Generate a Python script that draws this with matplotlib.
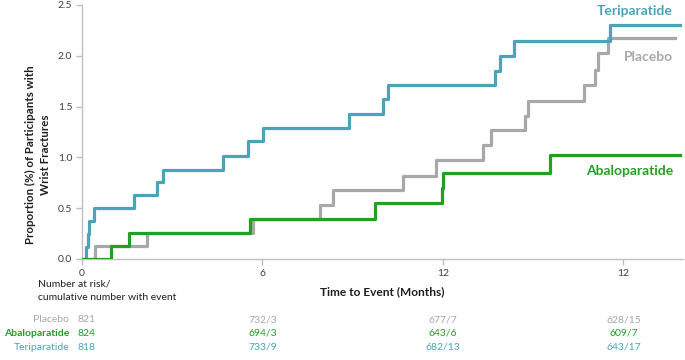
import matplotlib
matplotlib.use("Agg")
import matplotlib.pyplot as plt

plt.rcParams['font.family'] = ['Lato', 'DejaVu Sans']

# ---- data ----
teri_t = [0, 0.13, 0.19, 0.24, 0.41, 1.74, 2.48, 2.70, 4.70, 5.53, 6.03, 8.88, 10.0, 10.18, 13.73, 13.90, 14.36, 17.55, 19.88]
teri_y = [0, 0.12, 0.25, 0.37, 0.50, 0.63, 0.76, 0.88, 1.01, 1.16, 1.29, 1.43, 1.57, 1.71, 1.85, 2.00, 2.15, 2.30, 2.30]

plac_t = [0, 0.43, 2.15, 5.69, 7.91, 8.35, 10.66, 11.77, 13.32, 13.60, 14.73, 14.84, 16.69, 17.05, 17.14, 17.50, 19.71]
plac_y = [0, 0.13, 0.26, 0.39, 0.53, 0.68, 0.82, 0.97, 1.12, 1.27, 1.41, 1.56, 1.71, 1.86, 2.03, 2.18, 2.18]

abal_t = [0, 0.96, 1.56, 5.59, 9.74, 11.96, 11.99, 15.56, 19.88]
abal_y = [0, 0.13, 0.26, 0.39, 0.55, 0.70, 0.85, 1.02, 1.02]

x_ticks = [0, 6, 12, 18]
x_tick_labels = ["0", "6", "12", "12"]
y_ticks = [0.0, 0.5, 1.0, 1.5, 2.0, 2.5]

groups = ["Placebo", "Abaloparatide", "Teriparatide"]
risk_placebo = ["821", "732/3", "677/7", "628/15"]
risk_abalo = ["824", "694/3", "643/6", "609/7"]
risk_teri = ["818", "733/9", "682/13", "643/17"]

C_TERI = "#4BA3BA"
C_PLAC = "#A8A8A8"
C_ABAL = "#22A022"
C_TEXT = "#404040"

W, H = 685, 360
fig = plt.figure(figsize=(W / 100, H / 100), dpi=100)

x0, x1 = 82, 683
y0, y1 = 259, 5
ax = fig.add_axes([x0 / W, 1 - y0 / H, (x1 - x0) / W, (y0 - y1) / H])

lw = 2.3
ax.step(plac_t, plac_y, where='post', color=C_PLAC, lw=lw, zorder=2)
ax.step(teri_t, teri_y, where='post', color=C_TERI, lw=lw, zorder=3)
ax.step(abal_t, abal_y, where='post', color=C_ABAL, lw=lw, zorder=4)

ax.set_xlim(0, (x1 - x0) / 30.08)
ax.set_ylim(0, 2.5)
ax.set_xticks(x_ticks)
ax.set_xticklabels(x_tick_labels)
ax.set_yticks(y_ticks)
ax.set_yticklabels([f"{v:.1f}" for v in y_ticks])
for s in ["top", "right"]:
    ax.spines[s].set_visible(False)
for s in ["left", "bottom"]:
    ax.spines[s].set_color("#BFBFBF")
    ax.spines[s].set_linewidth(1.0)
ax.tick_params(axis='both', colors="#BFBFBF", labelcolor=C_TEXT, labelsize=7.5,
               length=4, width=1.0, pad=3)


def ft(px, py, s, **kw):
    fig.text(px / W, 1 - py / H, s, **kw)


# y-axis title
ft(38, 155, "Proportion (%) of Participants with\nWrist Fractures", color="#202020",
   fontsize=8.3, fontweight='bold', ha='center', va='center', rotation=90,
   linespacing=1.45, multialignment='center')

# series labels
ft(673, 11, "Teriparatide", color=C_TERI, fontsize=10, fontweight='bold', ha='right', va='center')
ft(673, 57, "Placebo", color=C_PLAC, fontsize=10, fontweight='bold', ha='right', va='center')
ft(673, 171, "Abaloparatide", color=C_ABAL, fontsize=10, fontweight='bold', ha='right', va='center')

# x-axis title
ft(382, 292, "Time to Event (Months)", color="#202020", fontsize=8.6, fontweight='bold', ha='center', va='center')

# number at risk title
ft(38, 284, "Number at risk/", color="#202020", fontsize=7.5, ha='left', va='center')
ft(38, 297, "cumulative number with event", color="#202020", fontsize=7.5, ha='left', va='center')

# risk table
row_y = [320, 333.5, 347]
row_colors = [C_PLAC, C_ABAL, C_TERI]
row_weights = ['normal', 'bold', 'normal']
rows = [risk_placebo, risk_abalo, risk_teri]
for g, vals, yy, c, wgt in zip(groups, rows, row_y, row_colors, row_weights):
    ft(69, yy, g, color=c, fontsize=7.5, fontweight=wgt, ha='right', va='center')
    for i, (t, v) in enumerate(zip(x_ticks, vals)):
        px = x0 + t * 30.08
        if i == 0:
            ft(77, yy, v, color=c, fontsize=7.5, ha='left', va='center')
        else:
            ft(px, yy, v, color=c, fontsize=7.5, ha='center', va='center')

fig.savefig("out.png", dpi=100)
